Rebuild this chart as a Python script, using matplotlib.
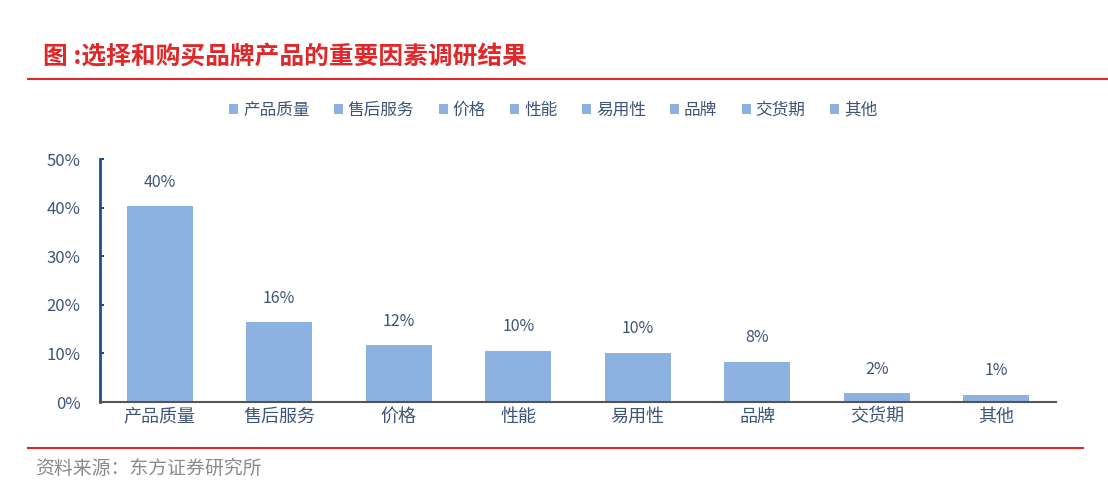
import matplotlib
matplotlib.use("Agg")
import matplotlib.pyplot as plt
from matplotlib.patches import Patch
from matplotlib.lines import Line2D

plt.rcParams['font.family'] = ['Noto Sans CJK SC', 'DejaVu Sans']

categories = ['产品质量', '售后服务', '价格', '性能', '易用性', '品牌', '交货期', '其他']
values = [40.3, 16.4, 11.7, 10.5, 10.1, 8.3, 1.8, 1.5]
labels = ['40%', '16%', '12%', '10%', '10%', '8%', '2%', '1%']
yticks = [0, 10, 20, 30, 40, 50]

bar_color = '#8DB1E0'
text_color = '#3F5577'
red = '#E0282A'

fig = plt.figure(figsize=(11.08, 4.94), dpi=100)
fig.patch.set_facecolor('white')
ax = fig.add_axes([100 / 1108, 92 / 494, 956 / 1108, 243 / 494])

x = range(len(categories))
ax.bar(x, values, width=0.55, color=bar_color)
for i, (v, lab) in enumerate(zip(values, labels)):
    ax.text(i, v + 3.2, lab, ha='center', va='bottom', fontsize=11.5, color=text_color)

ax.set_xlim(-0.5, len(categories) - 0.5)
ax.set_ylim(0, 50)
ax.set_yticks(yticks)
ax.set_yticklabels([f'{t}%' for t in yticks], fontsize=12, color=text_color)
ax.set_xticks(list(x))
ax.set_xticklabels(categories, fontsize=13, color=text_color)
ax.tick_params(axis='x', length=0, pad=4)
ax.tick_params(axis='y', direction='in', length=3, color='#1F4E8C', width=1.5, pad=14)
for s in ['top', 'right']:
    ax.spines[s].set_visible(False)
ax.spines['left'].set_color('#1F4E8C')
ax.spines['left'].set_linewidth(2)
ax.spines['bottom'].set_color('#555555')
ax.spines['bottom'].set_linewidth(1.5)

handles = [Patch(facecolor=bar_color, edgecolor='none', label=c) for c in categories]
fig.legend(handles=handles, loc='center', bbox_to_anchor=(553 / 1108, 1 - 110 / 494), ncol=8,
           frameon=False, fontsize=12, handlelength=0.55, handleheight=0.55,
           handletextpad=0.3, columnspacing=1.45, labelcolor=text_color)

fig.text(43 / 1108, 1 - 57 / 494, '图 :选择和购买品牌产品的重要因素调研结果', fontsize=17.8,
         fontweight='bold', color=red, va='center', ha='left')
fig.add_artist(Line2D([28 / 1108, 1.0], [1 - 79 / 494] * 2, color=red, lw=1.5))
fig.add_artist(Line2D([28 / 1108, 1083 / 1108], [1 - 448 / 494] * 2, color=red, lw=1.5))
fig.text(35 / 1108, 1 - 468 / 494, '资料来源：东方证券研究所', fontsize=13.6, color='#8A8A8A',
         va='center', ha='left')

fig.savefig('out.png', dpi=100, facecolor='white')
